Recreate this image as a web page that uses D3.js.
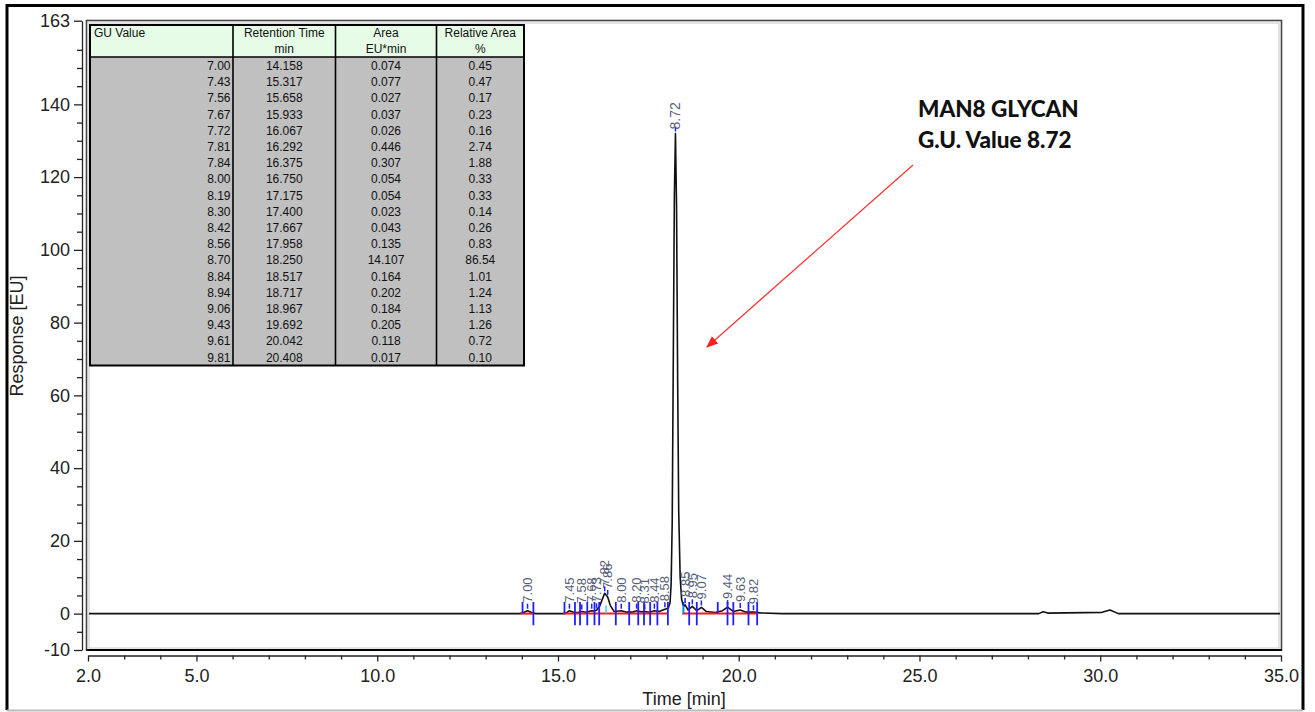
<!DOCTYPE html>
<html>
<head>
<meta charset="utf-8">
<script src="https://cdn.jsdelivr.net/npm/d3@7"></script>
<style>
  html, body { margin: 0; padding: 0; background: #fff; }
  svg { display: block; font-family: "Liberation Sans", Arial, sans-serif; }
</style>
</head>
<body>
<div id="container"></div>
<script>
// peak table
const guValues = ['7.00', '7.43', '7.56', '7.67', '7.72', '7.81', '7.84', '8.00', '8.19', '8.30', '8.42', '8.56', '8.70', '8.84', '8.94', '9.06', '9.43', '9.61', '9.81'];
const retentionTimes = [14.158, 15.317, 15.658, 15.933, 16.067, 16.292, 16.375, 16.750, 17.175, 17.400, 17.667, 17.958, 18.250, 18.517, 18.717, 18.967, 19.692, 20.042, 20.408];
const areas = ['0.074', '0.077', '0.027', '0.037', '0.026', '0.446', '0.307', '0.054', '0.054', '0.023', '0.043', '0.135', '14.107', '0.164', '0.202', '0.184', '0.205', '0.118', '0.017'];
const relativeAreas = ['0.45', '0.47', '0.17', '0.23', '0.16', '2.74', '1.88', '0.33', '0.33', '0.14', '0.26', '0.83', '86.54', '1.01', '1.24', '1.13', '1.26', '0.72', '0.10'];
const tableHeaders = [['GU Value'], ['Retention Time', 'min'], ['Area', 'EU*min'], ['Relative Area', '%']];

// peak tags drawn on the trace
const peakLabels = ['7.00', '7.45', '7.58', '7.68', '7.73', '7.82', '7.86', '8.00', '8.20', '8.31', '8.44', '8.58', '8.72', '8.85', '8.95', '9.07', '9.44', '9.63', '9.82'];
const peakHeights = [0.8, 0.8, 0.6, 0.8, 0.9, 5.6, 4.6, 0.8, 0.8, 0.6, 0.8, 1.2, 132, 2.4, 2.0, 1.7, 1.8, 1.0, 0.4];

// chromatogram trace [time min, response EU]
const trace = [
  [2, 0], [13.95, 0], [14.05, 0.3], [14.158, 0.8], [14.27, 0.3], [14.38, 0],
  [15.2, 0], [15.317, 0.8], [15.45, 0.3], [15.55, 0.3], [15.658, 0.6], [15.78, 0.4],
  [15.933, 0.8], [16.0, 0.7], [16.067, 0.9], [16.15, 2.0], [16.292, 5.6], [16.375, 4.6],
  [16.45, 2.2], [16.55, 0.6], [16.75, 0.8], [16.9, 0.4], [17.05, 0.4], [17.175, 0.8],
  [17.3, 0.5], [17.4, 0.6], [17.53, 0.4], [17.667, 0.8], [17.8, 0.6], [17.958, 1.2],
  [18.05, 1.5], [18.10, 3], [18.13, 8], [18.16, 25], [18.19, 70], [18.22, 115],
  [18.25, 132], [18.28, 112], [18.31, 65], [18.34, 28], [18.38, 10], [18.42, 4],
  [18.47, 2.0], [18.517, 2.4], [18.6, 1.0], [18.717, 2.0], [18.84, 0.8], [18.967, 1.7],
  [19.1, 0.6], [19.35, 0.3], [19.55, 0.8], [19.692, 1.8], [19.85, 0.6], [20.042, 1.0],
  [20.2, 0.4], [20.408, 0.4], [20.6, 0.2], [21.2, 0], [28.3, 0], [28.42, 0.5],
  [28.55, 0.15], [30.05, 0.35], [30.27, 1.0], [30.5, 0], [35, 0]
];

// integration marks
const boundaryTimes = [14.02, 14.32, 15.18, 15.47, 15.61, 15.81, 16.01, 16.14, 16.60, 16.97, 17.22, 17.38, 17.55, 17.75, 18.04, 18.47, 18.63, 18.84, 19.42, 19.69, 19.85, 20.27, 20.51];
const boundaryShort = [true, false, true, false, false, false, false, false, false, false, false, false, false, false, false, true, false, false, true, false, false, false, false];
const dropTimes = [16.33, 18.45];
const baselineSegments = [[13.97, 14.31], [15.14, 18.04], [18.43, 20.53]];

const xTicks = [2, 5, 10, 15, 20, 25, 30, 35];
const yTicks = [163, 140, 120, 100, 80, 60, 40, 20, 0, -10];
const annotationLines = ['MAN8 GLYCAN', 'G.U. Value 8.72'];

const width = 1315;
const height = 712;
const svg = d3.select('#container').append('svg')
  .attr('width', width)
  .attr('height', height);

const x = d3.scaleLinear().domain([2, 35]).range([88, 1281]);
const y = d3.scaleLinear().domain([-10, 163]).range([650, 20.7]);

// outer frame
svg.append('path')
  .attr('d', 'M7,710 L7,5.5 L1303,5.5 L1303,710')
  .attr('fill', 'none')
  .attr('stroke', '#000')
  .attr('stroke-width', 3);
svg.append('line')
  .attr('x1', 7).attr('x2', 1303).attr('y1', 710.5).attr('y2', 710.5)
  .attr('stroke', '#bbb').attr('stroke-width', 2);

// plot frame
svg.append('rect')
  .attr('x', 86.5).attr('y', 20.5)
  .attr('width', 1281.5 - 86.5).attr('height', 650 - 20.5)
  .attr('fill', 'none').attr('stroke', '#444').attr('stroke-width', 1.6);
svg.append('rect')
  .attr('x', 89).attr('y', 23)
  .attr('width', 1279 - 89).attr('height', 648 - 23)
  .attr('fill', 'none').attr('stroke', '#c8c8c8').attr('stroke-width', 1);
svg.append('line')
  .attr('x1', 86.5).attr('x2', 1282).attr('y1', 650).attr('y2', 650)
  .attr('stroke', '#000').attr('stroke-width', 2.2);

// y axis
svg.append('g')
  .attr('transform', 'translate(82,0)')
  .call(d3.axisLeft(y).tickValues(yTicks).tickFormat(d => String(d)).tickSize(8).tickSizeOuter(0).tickPadding(4));
svg.append('g')
  .attr('transform', 'translate(82,0)')
  .call(d3.axisLeft(y).tickValues(d3.range(-5, 163, 5).filter(v => v % 20 !== 0)).tickSize(5).tickFormat(''))
  .select('.domain').remove();

// x axis
svg.append('g')
  .attr('transform', 'translate(0,655.5)')
  .call(d3.axisBottom(x).tickValues(xTicks).tickFormat(d3.format('.1f')).tickSize(6).tickSizeOuter(0).tickPadding(8));
svg.append('g')
  .attr('transform', 'translate(0,655.5)')
  .call(d3.axisBottom(x).tickValues(d3.range(3, 35, 1).filter(v => v % 5 !== 0)).tickSize(4).tickFormat(''))
  .select('.domain').remove();

svg.selectAll('.tick text')
  .attr('font-size', 18)
  .attr('font-family', '"Liberation Sans", Arial, sans-serif')
  .attr('fill', '#222');
svg.selectAll('.domain, .tick line').attr('stroke', '#222').attr('stroke-width', 1.3);

svg.append('text')
  .attr('transform', 'translate(23,336) rotate(-90)')
  .attr('text-anchor', 'middle')
  .attr('font-size', 18)
  .attr('fill', '#222')
  .text('Response [EU]');
svg.append('text')
  .attr('x', 684).attr('y', 705)
  .attr('text-anchor', 'middle')
  .attr('font-size', 18)
  .attr('fill', '#222')
  .text('Time [min]');

// trace
svg.append('clipPath').attr('id', 'plot-clip')
  .append('rect').attr('x', 89).attr('y', 21).attr('width', 1191).attr('height', 628);

const plot = svg.append('g').attr('clip-path', 'url(#plot-clip)');

plot.append('path')
  .datum(trace)
  .attr('fill', 'none')
  .attr('stroke', '#111')
  .attr('stroke-width', 1.6)
  .attr('stroke-linejoin', 'round')
  .attr('d', d3.line().x(d => x(d[0])).y(d => y(d[1])));

plot.selectAll('.baseline')
  .data(baselineSegments)
  .join('line')
    .attr('class', 'baseline')
    .attr('x1', d => x(d[0])).attr('x2', d => x(d[1]))
    .attr('y1', y(0)).attr('y2', y(0))
    .attr('stroke', '#ff1a1a')
    .attr('stroke-width', 2);

plot.selectAll('.boundary')
  .data(boundaryTimes)
  .join('line')
    .attr('class', 'boundary')
    .attr('x1', d => x(d)).attr('x2', d => x(d))
    .attr('y1', y(3.2))
    .attr('y2', (d, i) => boundaryShort[i] ? y(0) : y(-3.2))
    .attr('stroke', '#1f1fff')
    .attr('stroke-width', 1.8);

plot.selectAll('.drop')
  .data(dropTimes)
  .join('line')
    .attr('class', 'drop')
    .attr('x1', d => x(d)).attr('x2', d => x(d))
    .attr('y1', y(2.2)).attr('y2', y(0))
    .attr('stroke', '#3ad6d6')
    .attr('stroke-width', 1.5);

plot.selectAll('.apex')
  .data(retentionTimes)
  .join('line')
    .attr('class', 'apex')
    .attr('x1', d => x(d)).attr('x2', d => x(d))
    .attr('y1', (d, i) => y(peakHeights[i]) - 2)
    .attr('y2', (d, i) => y(peakHeights[i]) - 7)
    .attr('stroke', '#1f1fff')
    .attr('stroke-width', 1.5);

plot.selectAll('.peak-label')
  .data(retentionTimes)
  .join('text')
    .attr('class', 'peak-label')
    .attr('transform', (d, i) => `translate(${x(d)},${y(peakHeights[i]) - (i === 12 ? 4 : 8)}) rotate(-90)`)
    .attr('dy', '0.35em')
    .attr('font-size', (d, i) => i === 12 ? 14 : 13)
    .attr('fill', '#56607a')
    .text((d, i) => peakLabels[i]);

// results table
const table = svg.append('g');
const colEdges = [90, 233, 335.5, 436.5, 524];
const tableTop = 25;
const headerBottom = 57;
const tableBottom = 365.5;
const rowStep = 16.2;
const firstRow = 65.7;

table.append('rect')
  .attr('x', colEdges[0]).attr('y', headerBottom)
  .attr('width', colEdges[4] - colEdges[0]).attr('height', tableBottom - headerBottom)
  .attr('fill', '#c0c0c0');
table.append('rect')
  .attr('x', colEdges[0]).attr('y', tableTop)
  .attr('width', colEdges[4] - colEdges[0]).attr('height', headerBottom - tableTop)
  .attr('fill', '#e6fce6');

tableHeaders.forEach((lines, c) => {
  lines.forEach((t, j) => {
    table.append('text')
      .attr('x', c === 0 ? colEdges[0] + 4 : (colEdges[c] + colEdges[c + 1]) / 2)
      .attr('y', tableTop + 12 + j * 15.5)
      .attr('text-anchor', c === 0 ? 'start' : 'middle')
      .attr('font-size', 12)
      .attr('fill', '#111')
      .text(t);
  });
});

const columns = [guValues, retentionTimes.map(d3.format('.3f')), areas, relativeAreas];
columns.forEach((col, c) => {
  table.selectAll(null)
    .data(col)
    .join('text')
      .attr('x', c === 0 ? colEdges[1] - 2.5 : (colEdges[c] + colEdges[c + 1]) / 2)
      .attr('y', (d, i) => firstRow + i * rowStep)
      .attr('dy', '0.35em')
      .attr('text-anchor', c === 0 ? 'end' : 'middle')
      .attr('font-size', 12)
      .attr('fill', '#111')
      .text(d => d);
});

colEdges.slice(1, 4).forEach(cx => {
  table.append('line')
    .attr('x1', cx).attr('x2', cx).attr('y1', tableTop).attr('y2', tableBottom)
    .attr('stroke', '#000').attr('stroke-width', 1.6);
});
table.append('line')
  .attr('x1', colEdges[0]).attr('x2', colEdges[4]).attr('y1', headerBottom).attr('y2', headerBottom)
  .attr('stroke', '#000').attr('stroke-width', 1.6);
table.append('rect')
  .attr('x', colEdges[0]).attr('y', tableTop)
  .attr('width', colEdges[4] - colEdges[0]).attr('height', tableBottom - tableTop)
  .attr('fill', 'none').attr('stroke', '#000').attr('stroke-width', 2);

// annotation
svg.append('defs').append('marker')
  .attr('id', 'arrow')
  .attr('viewBox', '0 0 10 10')
  .attr('refX', 9).attr('refY', 5)
  .attr('markerWidth', 12).attr('markerHeight', 12)
  .attr('markerUnits', 'userSpaceOnUse')
  .attr('orient', 'auto')
  .append('path').attr('d', 'M0,1 L10,5 L0,9 Z').attr('fill', '#ff2020');

svg.append('line')
  .attr('x1', 913).attr('y1', 165)
  .attr('x2', 707).attr('y2', 347)
  .attr('stroke', '#ff3030')
  .attr('stroke-width', 1.2)
  .attr('marker-end', 'url(#arrow)');

svg.selectAll('.note')
  .data(annotationLines)
  .join('text')
    .attr('class', 'note')
    .attr('x', 918)
    .attr('y', (d, i) => 117 + i * 31)
    .attr('font-family', 'Lato, "Open Sans", sans-serif')
    .attr('font-weight', 900)
    .attr('font-size', 22.5)
    .attr('fill', '#111')
    .text(d => d);
</script>
</body>
</html>
